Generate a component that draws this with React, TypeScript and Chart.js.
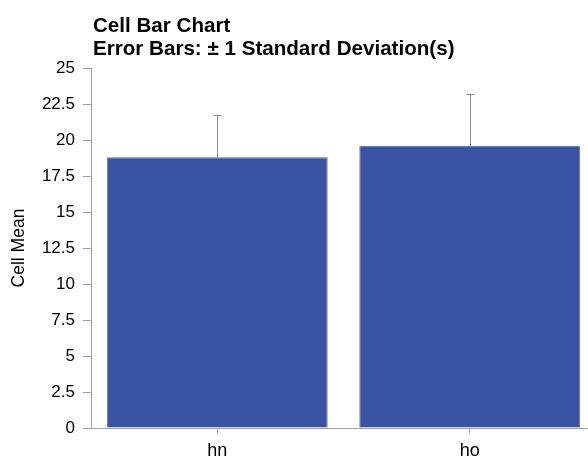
import React, { useEffect, useRef } from "react";
import { Chart, registerables } from "chart.js";

Chart.register(...registerables);

const categories = ["hn", "ho"];
const means = [18.8, 19.6];
const stdDevs = [2.94, 3.57];
const yTicks = [0, 2.5, 5, 7.5, 10, 12.5, 15, 17.5, 20, 22.5, 25];
const titleLines = ["Cell Bar Chart", "Error Bars: \u00b1 1 Standard Deviation(s)"];
const yTitle = "Cell Mean";

const FONT = "'Liberation Sans', Arial, Helvetica, sans-serif";

const errorBarPlugin = {
  id: "errorBars",
  afterDatasetsDraw(chart: any) {
    const ctx = chart.ctx;
    const meta = chart.getDatasetMeta(0);
    const yScale = chart.scales.y;
    ctx.save();
    ctx.strokeStyle = "#8a8a8a";
    ctx.lineWidth = 1;
    meta.data.forEach((bar: any, i: number) => {
      const x = Math.round(bar.x) + 0.5;
      const yTop = Math.round(yScale.getPixelForValue(means[i] + stdDevs[i])) + 0.5;
      const yBase = bar.y;
      ctx.beginPath();
      ctx.moveTo(x, yBase);
      ctx.lineTo(x, yTop);
      ctx.moveTo(x - 4, yTop);
      ctx.lineTo(x + 4, yTop);
      ctx.stroke();
    });
    ctx.restore();
  },
};

const titlePlugin = {
  id: "leftTitle",
  afterDraw(chart: any) {
    const ctx = chart.ctx;
    ctx.save();
    ctx.fillStyle = "#000";
    ctx.font = `bold 20.6px ${FONT}`;
    ctx.textBaseline = "alphabetic";
    ctx.textAlign = "left";
    ctx.fillText(titleLines[0], 93, 31.7);
    ctx.fillText(titleLines[1], 93, 55);
    ctx.restore();
  },
};

export default function App() {
  const ref = useRef<HTMLCanvasElement>(null);
  useEffect(() => {
    if (!ref.current) return;
    const chart = new Chart(ref.current, {
      type: "bar",
      data: {
        labels: categories,
        datasets: [
          {
            data: means,
            backgroundColor: "#3a52a3",
            borderColor: "#6a7398",
            borderWidth: 1,
            barPercentage: 0.875,
            categoryPercentage: 1,
          },
        ],
      },
      options: {
        responsive: false,
        animation: false,
        devicePixelRatio: 1,
        layout: { padding: { top: 68, right: 4, left: 0, bottom: 0 } },
        plugins: {
          legend: { display: false },
          tooltip: { enabled: false },
          title: { display: false },
        },
        scales: {
          x: {
            type: "category",
            offset: true,
            grid: {
              display: true,
              offset: false,
              drawOnChartArea: false,
              drawTicks: true,
              tickLength: 5,
              color: "#a0a0a0",
            },
            border: { display: true, color: "#a0a0a0", width: 1 },
            ticks: {
              color: "#000",
              font: { family: FONT, size: 18 },
              padding: 7,
            },
            afterFit: (s: any) => {
              s.height = 31;
            },
          },
          y: {
            type: "linear",
            min: 0,
            max: 25,
            afterBuildTicks: (s: any) => {
              s.ticks = yTicks.map((v) => ({ value: v }));
            },
            grid: {
              display: true,
              drawOnChartArea: false,
              drawTicks: true,
              tickLength: 8,
              color: "#a0a0a0",
            },
            border: { display: true, color: "#a0a0a0", width: 1 },
            ticks: {
              color: "#000",
              font: { family: FONT, size: 17 },
              padding: 8,
              callback: (v: any) => String(v),
            },
            title: {
              display: true,
              text: yTitle,
              color: "#000",
              font: { family: FONT, size: 17.5 },
              padding: { top: 9, bottom: 0 },
            },
            afterFit: (s: any) => {
              s.width = 91;
            },
          },
        },
      },
      plugins: [errorBarPlugin, titlePlugin],
    });
    return () => chart.destroy();
  }, []);
  return (
    <div
      style={{
        position: "fixed",
        left: 0,
        top: 0,
        width: 588,
        height: 459,
        overflow: "hidden",
        background: "#fff",
      }}
    >
      <canvas ref={ref} width={600} height={459} style={{ display: "block" }} />
    </div>
  );
}
